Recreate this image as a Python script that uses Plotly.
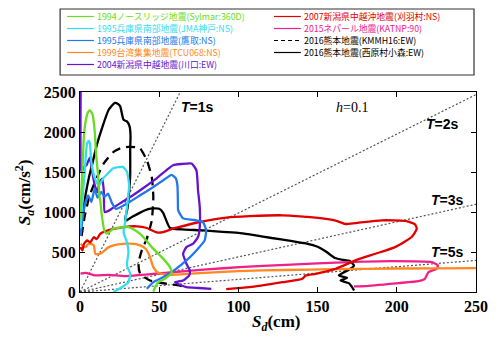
import math
import plotly.graph_objects as go

# ---- response spectra, Sd [cm] vs Sa [cm/s^2] (h = 0.1) ----
sylmar_sd = [0.3, 1.0, 1.8, 2.4, 3.5, 5.1, 6.4, 8.0, 9.3, 10.2, 11.4, 12.2, 12.9, 13.9, 15.5, 17.0,
             21.2, 25.0, 30.6, 35.0, 39.0, 45.3, 51.6, 56.8, 57.8, 53.6, 49.4, 47.4, 46.3]
sylmar_sa = [900, 1300, 1650, 1923, 2132, 2249, 2270, 2215, 2007, 1714, 1463, 1213, 1125, 937, 760, 730,
             792, 805, 812, 770, 708, 561, 436, 311, 240, 165, 123, 60, 5]

jma_sd = [0.3, 1.5, 3.0, 4.4, 5.5, 6.3, 7.0, 8.5, 10.0, 12.0, 14.5, 17.5, 20.8, 24.3, 27.1, 29.6,
          31.0, 30.2, 28.5, 27.5, 29.6, 30.6, 29.6, 31.7, 30.6, 26.5, 21.0]
jma_sa = [800, 1150, 1500, 1850, 1890, 1850, 1650, 1480, 1390, 1330, 1418, 1480, 1544, 1560, 1564, 1506,
          1334, 1150, 875, 749, 624, 499, 332, 228, 123, 60, 0]

takatori_sd = [0.3, 1.4, 3.0, 5.1, 7.2, 9.3, 11.0, 13.5, 15.5, 17.7, 20.0, 22.6, 29.6, 38.0, 46.3, 52.6,
               57.8, 60.5, 61.5, 61.8, 62.0, 65.1, 72.0, 77.7, 79.6, 78.7, 73.5, 67.2, 60.0, 52.6, 46.3, 42.2]
takatori_sa = [700, 880, 1084, 1209, 1125, 1293, 1180, 1251, 1190, 1230, 1120, 1040, 1105, 1209, 1313, 1397,
               1465, 1420, 1330, 1150, 1021, 920, 900, 870, 771, 645, 520, 395, 280, 186, 123, 40]

tcu068_sd = [0.3, 1.4, 3.5, 5.5, 8.7, 9.7, 12.9, 18.1, 24.3, 31.7, 38.0, 41.5, 44.2, 46.3, 49.4, 55.7,
             75.0, 100.0, 130.0, 160.0, 200.0, 250.0, 270.0]
tcu068_sa = [604, 583, 560, 604, 583, 478, 478, 561, 595, 604, 583, 541, 436, 311, 240, 215,
             235, 262, 275, 285, 294, 298, 299]

kawaguchi_sd = [0.4, 0.4, 0.9, 2.5, 4.1, 6.2, 7.6, 9.3, 11.0, 12.4, 14.0, 15.0, 15.6, 17.5, 20.0, 25.0,
                33.4, 40.0, 48.4, 55.0, 58.8, 64.0, 70.4, 73.5, 74.5, 75.6, 75.6, 74.5, 71.4, 67.2, 65.1,
                67.2, 69.3, 68.9, 65.1, 60.0, 63.0, 67.2, 75.0, 82.9]
kawaguchi_sa = [2550, 1600, 1501, 1560, 1585, 1680, 1522, 1334, 1250, 1376, 1418, 1272, 1000, 1010, 1040, 1105,
                1209, 1300, 1420, 1530, 1585, 1600, 1606, 1522, 1272, 1063, 812, 687, 604, 561, 478,
                353, 269, 207, 144, 123, 90, 60, 50, 40]

kariwa_sd = [0.3, 1.5, 2.5, 4.5, 6.5, 8.7, 10.5, 12.9, 19.1, 27.5, 35.9, 42.2, 48.4, 52.6, 58.8, 61.0,
             75.6, 92.4, 107.0, 127.9, 142.5, 148.8, 161.4, 167.6, 173.9, 190.6, 205.3, 211.5, 212.6,
             209.4, 198.9, 186.5, 173.9, 161.4, 148.8, 142.5, 140.4, 127.9, 107.0, 92.3]
kariwa_sa = [561, 520, 600, 645, 620, 687, 660, 729, 779, 812, 821, 800, 745, 749, 792, 804,
             875, 930, 948, 959, 940, 930, 892, 850, 862, 896, 888, 846, 792,
             687, 561, 478, 395, 290, 228, 207, 165, 123, 60, 35]

katnp_sd = [0.3, 3.5, 9.7, 18.0, 28.5, 39.0, 47.4, 60.0, 80.0, 100.7, 130.0, 169.7, 196.9, 222.0, 226.0,
            225.0, 220.0, 217.7, 213.6, 201.0, 180.0, 173.0]
katnp_sa = [230, 240, 207, 215, 198, 215, 228, 250, 282, 311, 340, 374, 386, 374, 332,
            290, 248, 165, 136, 111, 73, 70]

kmmh16_sd = [1.0, 3.0, 6.0, 8.5, 10.8, 14.9, 21.2, 26.0, 30.6, 35.0, 38.0, 42.2, 45.3, 46.3, 45.3, 42.2,
             39.0, 36.9, 38.0, 44.2, 54.7, 63.0, 67.0]
kmmh16_sa = [700, 950, 1200, 1330, 1438, 1606, 1752, 1800, 1814, 1810, 1794, 1648, 1438, 1188, 896, 667,
             520, 353, 228, 144, 103, 81, 60]

nishihara_sd = [0.5, 2.0, 3.5, 5.5, 7.6, 10.5, 13.9, 18.1, 21.8, 24.0, 25.4, 27.5, 29.6, 31.3, 31.9, 31.7,
                31.7, 31.0, 30.0, 28.5, 33.0, 38.0, 43.0, 46.3, 50.0, 52.5, 54.0, 56.8, 64.0, 78.0, 90.0,
                101.0, 110.0, 121.0, 133.0, 142.6, 150.0, 155.0, 161.0, 166.0, 170.0, 173.0, 170.7, 163.4,
                168.6, 164.5, 169.7, 171.8, 173.0]
nishihara_sa = [800, 1000, 1213, 1420, 1589, 1830, 2049, 2278, 2362, 2350, 2320, 2153, 2132, 2070, 1950, 1798,
                1463, 1250, 1050, 890, 940, 992, 1035, 1045, 1040, 990, 917, 800, 783, 770, 752,
                737, 712, 675, 640, 607, 565, 510, 425, 402, 390, 332, 290, 207,
                178, 144, 111, 60, 19]

series_sd = [sylmar_sd, jma_sd, takatori_sd, tcu068_sd, kawaguchi_sd,
             kariwa_sd, katnp_sd, kmmh16_sd, nishihara_sd]
series_sa = [sylmar_sa, jma_sa, takatori_sa, tcu068_sa, kawaguchi_sa,
             kariwa_sa, katnp_sa, kmmh16_sa, nishihara_sa]
names = [
    "1994ノースリッジ地震(Sylmar:360D)",
    "1995兵庫県南部地震(JMA神戸:NS)",
    "1995兵庫県南部地震(鷹取:NS)",
    "1999台湾集集地震(TCU068:NS)",
    "2004新潟県中越地震(川口:EW)",
    "2007新潟県中越沖地震(刈羽村:NS)",
    "2015ネパール地震(KATNP:90)",
    "2016熊本地震(KMMH16:EW)",
    "2016熊本地震(西原村小森:EW)",
]
colors = ["#66dd22", "#33ddf0", "#2277ee", "#ff8822", "#6614cc",
          "#e00000", "#f0208a", "#000000", "#000000"]
dashes = ["solid"] * 7 + ["9px,6px", "solid"]
draw_order = [8, 7, 6, 3, 5, 4, 2, 1, 0]

# constant-period lines Sa = (2*pi/T)^2 * Sd
periods = [1, 2, 3, 5]
period_labels = ["<i>T</i>=1s", "<i>T</i>=2s", "<i>T</i>=3s", "<i>T</i>=5s"]
period_label_pos = [(74, 2312), (229, 2099), (232, 1147), (232, 495)]

SD_MAX, SA_MAX = 250, 2500

fig = go.Figure()

for T in periods:
    w2 = (2 * math.pi / T) ** 2
    fig.add_trace(go.Scatter(
        x=[0, SD_MAX], y=[0, w2 * SD_MAX], mode="lines",
        line=dict(color="#555555", width=1.2, dash="2px,2px"),
        showlegend=False, hoverinfo="skip"))

for i in draw_order:
    fig.add_trace(go.Scatter(
        x=series_sd[i], y=series_sa[i], mode="lines", name=names[i],
        line=dict(color=colors[i], width=2.3, dash=dashes[i], shape="spline", smoothing=0.5),
        showlegend=False))

# plot-area geometry in pixels, used to place the legend block in paper units
L, R, T_M, B = 80, 22, 92, 51
W, H = 500, 343
PW, PH = W - L - R, H - T_M - B


def paper(px, py):
    return (px - L) / PW, (H - B - py) / PH


annotations = []
shapes = []

# legend frame
x0, y0 = paper(60, 75)
x1, y1 = paper(476, 9)
shapes.append(dict(type="rect", xref="paper", yref="paper", x0=x0, y0=y0, x1=x1, y1=y1,
                   line=dict(color="#333333", width=1.2), fillcolor="white", layer="below"))

# legend entries: two columns
col_x = [67, 275]
row_y0, row_dy = 16.5, 12.0
for k in range(len(names)):
    col = 0 if k < 5 else 1
    row = k if k < 5 else k - 5
    ly = row_y0 + row * row_dy
    lx0, lyp = paper(col_x[col], ly)
    lx1, _ = paper(col_x[col] + 27, ly)
    tx, _ = paper(col_x[col] + 29, ly)
    shapes.append(dict(type="line", xref="paper", yref="paper", x0=lx0, x1=lx1, y0=lyp, y1=lyp,
                       line=dict(color=colors[k], width=1.2,
                                 dash="4px,3px" if dashes[k] != "solid" else "solid")))
    annotations.append(dict(xref="paper", yref="paper", x=tx, y=lyp, xanchor="left", yanchor="middle",
                            text=names[k], showarrow=False, borderpad=0,
                            font=dict(family="Noto Sans CJK JP", size=8.8, color=colors[k])))

for lab, (sx, sy) in zip(period_labels, period_label_pos):
    annotations.append(dict(x=sx, y=sy, text=lab, showarrow=False, xanchor="center", yanchor="middle",
                            font=dict(family="Liberation Sans", size=14, color="black", weight="bold")))

annotations.append(dict(x=172, y=2312, text="<i>h</i>=0.1", showarrow=False,
                        xanchor="center", yanchor="middle",
                        font=dict(family="Liberation Serif", size=14, color="black")))

# axis titles
tx, ty = paper(277, 323)
annotations.append(dict(xref="paper", yref="paper", x=tx, y=ty, showarrow=False,
                        xanchor="center", yanchor="middle",
                        text="<i>S</i><sub><i>d</i></sub>(cm)",
                        font=dict(family="Liberation Serif", size=17, color="black", weight="bold")))
tx, ty = paper(24, 192)
annotations.append(dict(xref="paper", yref="paper", x=tx, y=ty, showarrow=False, textangle=-90,
                        xanchor="center", yanchor="middle",
                        text="<i>S</i><sub><i>a</i></sub>(cm/s<sup>2</sup>)",
                        font=dict(family="Liberation Serif", size=17, color="black", weight="bold")))

axis_common = dict(showgrid=False, zeroline=False, showline=True, linecolor="black", linewidth=1,
                   mirror="ticks", ticks="inside", ticklen=5, tickcolor="black", tickwidth=1,
                   tickfont=dict(family="Liberation Serif", size=16, color="black", weight="bold"))

fig.update_layout(
    width=W, height=H, margin=dict(l=L, r=R, t=T_M, b=B),
    paper_bgcolor="white", plot_bgcolor="white",
    xaxis=dict(range=[0, SD_MAX], tickvals=[0, 50, 100, 150, 200, 250], **axis_common),
    yaxis=dict(range=[0, SA_MAX], tickvals=[0, 500, 1000, 1500, 2000, 2500], **axis_common),
    annotations=annotations, shapes=shapes, showlegend=False,
)

fig.write_html("out.html")
